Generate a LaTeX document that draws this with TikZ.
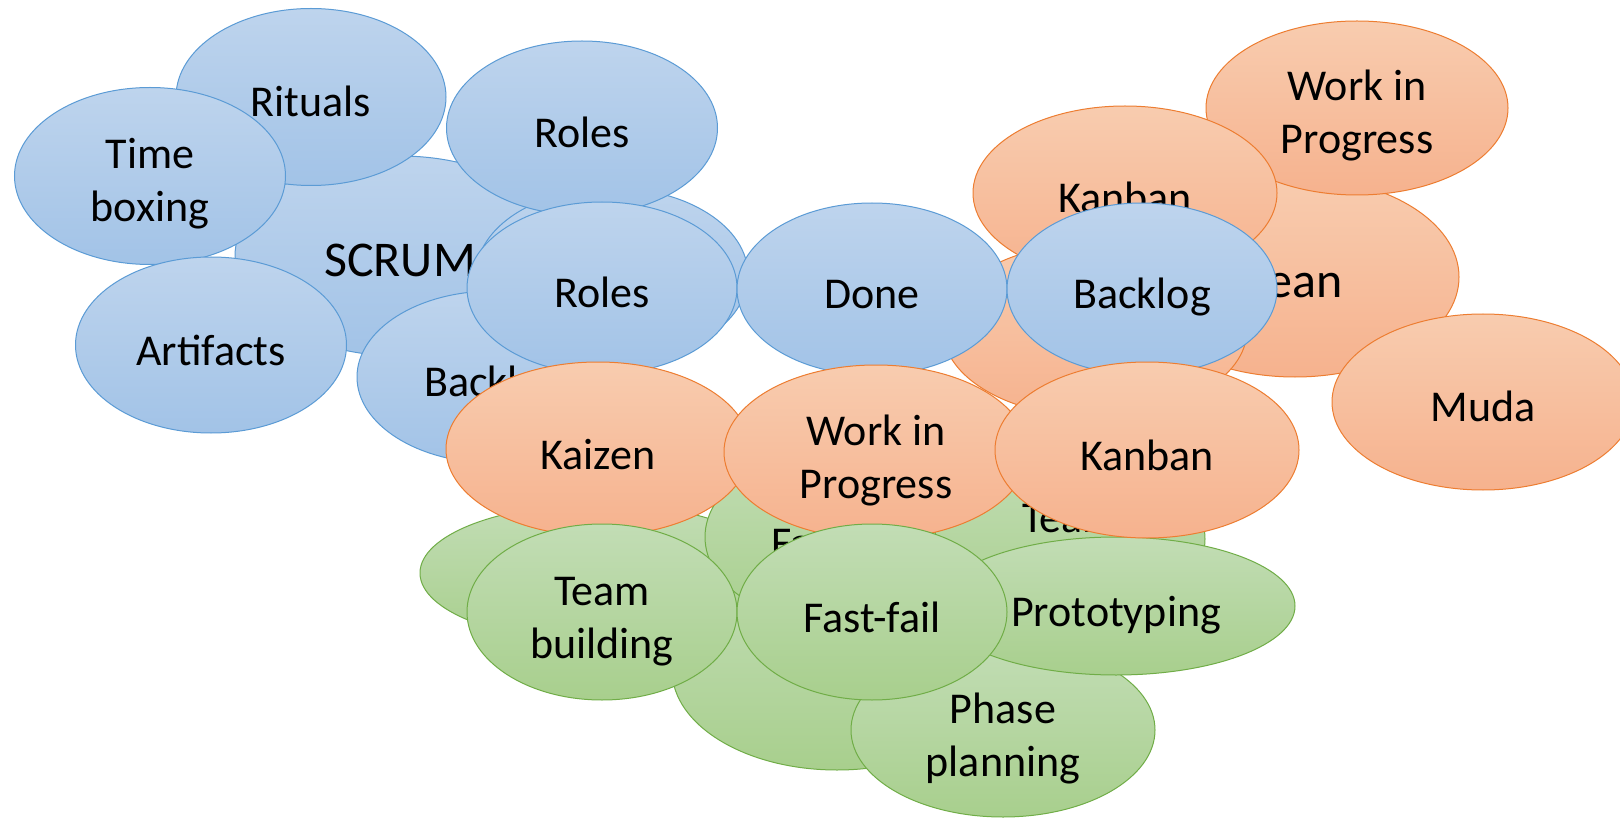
\documentclass[tikz,border=0pt]{standalone}
\usepackage{fontspec}
\setmainfont{Carlito}
\usetikzlibrary{shapes.geometric}
\definecolor{btop}{RGB}{190,212,237}
\definecolor{bbot}{RGB}{162,195,231}
\definecolor{bline}{RGB}{91,155,213}
\definecolor{otop}{RGB}{248,204,175}
\definecolor{obot}{RGB}{246,178,142}
\definecolor{oline}{RGB}{237,125,49}
\definecolor{gtop}{RGB}{194,221,181}
\definecolor{gbot}{RGB}{168,207,141}
\definecolor{gline}{RGB}{112,173,71}
\newcommand\lb[2][20]{\raisebox{-#1pt}[0pt][0pt]{\hbox to 0pt{\hss #2\hss}}}
\newcommand\lbb[2]{\raisebox{-46pt}[0pt][0pt]{\vbox{\baselineskip=53pt \hbox to 0pt{\hss #1\hss}\hbox to 0pt{\hss #2\hss}}}}
\tikzset{
  ell/.style 2 args={shape=ellipse, inner sep=0pt, minimum width=#1pt, minimum height=#2pt, line width=1pt, font=\fontsize{44}{53}\selectfont},
  blue/.style={top color=btop, bottom color=bbot, draw=bline},
  orng/.style={top color=otop, bottom color=obot, draw=oline},
  grn/.style={top color=gtop, bottom color=gbot, draw=gline},
  big/.style={font=\fontsize{50}{60}\selectfont}
}
\begin{document}
\begin{tikzpicture}[x=1pt,y=-1pt]
\useasboundingbox[fill=white] (0,0) rectangle (1620,818);
% SCRUM cluster
\node[ell={330}{200}, blue, big] (scrum) at (400,256) {\lb[21]{SCRUM}};
\node[ell={272}{174}, blue] (bhid) at (612,275) {};
\node[ell={270}{177}, blue] (rituals) at (311,97) {\lb{Rituals}};
\node[ell={271}{177}, blue] (timebox) at (150,176) {\lbb{Time}{boxing}};
\node[ell={271}{176}, blue] (artifacts) at (211,345) {\lb{Artifacts}};
\node[ell={271}{174}, blue] (rolesup) at (582,128) {\lb{Roles}};
\node[ell={272}{172}, blue] (backhid) at (493,377) {\lb{Backlog}};
% Lean cluster
\node[ell={328}{200}, orng, big] (lean) at (1295,277) {\lb[21]{Lean}};
\node[ell={304}{174}, orng] (ohid) at (1095,330) {};
\node[ell={302}{174}, orng] (wipup) at (1357,108) {\lbb{Work in}{Progress}};
\node[ell={304}{174}, orng] (kanbanup) at (1125,193) {\lb{Kanban}};
\node[ell={302}{176}, orng] (muda) at (1483,402) {\lb{Muda}};
% Green cluster
\node[ell={330}{200}, grn] (gcen) at (837,670) {};
\node[ell={358}{138}, grn] (ghidl) at (599,573) {};
\node[ell={270}{176}, grn] (ghidf) at (840,537) {\lb{Fast-fail}};
\node[ell={270}{176}, grn] (ghidt) at (1070,539) {\lbb{Team}{building}};
\node[ell={304}{174}, grn] (phase) at (1003,730) {\lbb{Phase}{planning}};
\node[ell={358}{138}, grn] (proto) at (1116,606) {\lb{Prototyping}};
% middle rows
\node[ell={270}{172}, blue] (roles) at (602,288) {\lb{Roles}};
\node[ell={270}{172}, blue] (done) at (872,289) {\lb{Done}};
\node[ell={270}{172}, blue] (backlog) at (1142,289) {\lb{Backlog}};
\node[ell={304}{174}, orng] (kaizen) at (598,449) {\lb{Kaizen}};
\node[ell={304}{174}, orng] (wip) at (876,452) {\lbb{Work in}{Progress}};
\node[ell={304}{176}, orng] (kanban) at (1147,450) {\lb{Kanban}};
\node[ell={270}{176}, grn] (team) at (602,612) {\lbb{Team}{building}};
\node[ell={270}{176}, grn] (fastfail) at (872,612) {\lb{Fast-fail}};
\end{tikzpicture}
\end{document}
